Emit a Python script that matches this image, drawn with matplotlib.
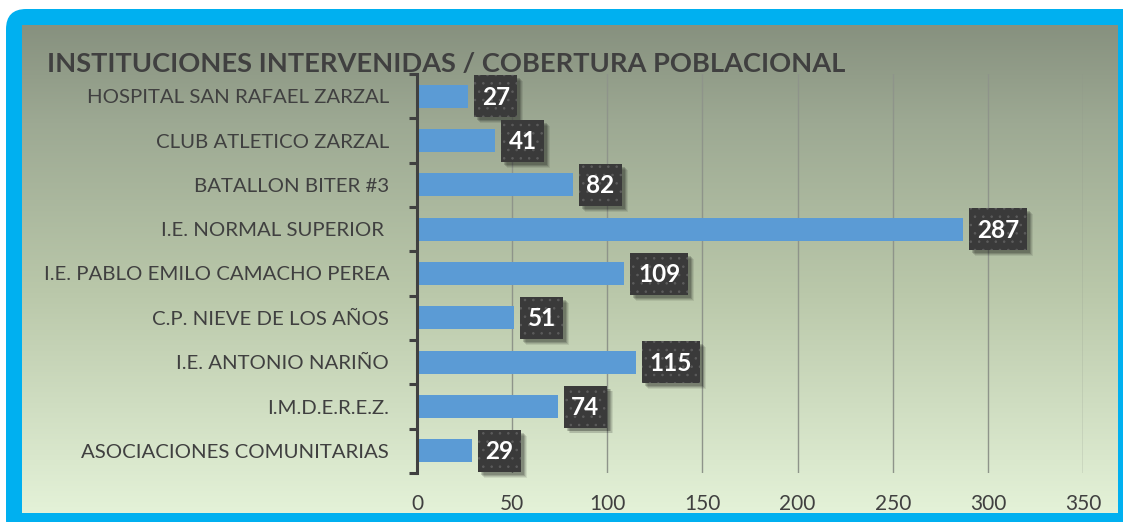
import numpy as np
import matplotlib
matplotlib.use("Agg")
import matplotlib.pyplot as plt
from matplotlib.patches import Rectangle, FancyBboxPatch
from matplotlib.colors import LinearSegmentedColormap

# ---- data ----
categories = [
    "HOSPITAL SAN RAFAEL ZARZAL",
    "CLUB ATLETICO ZARZAL",
    "BATALLON BITER #3",
    "I.E. NORMAL SUPERIOR ",
    "I.E. PABLO EMILO CAMACHO PEREA",
    "C.P. NIEVE DE LOS AÑOS",
    "I.E. ANTONIO NARIÑO",
    "I.M.D.E.R.E.Z.",
    "ASOCIACIONES COMUNITARIAS",
]
values = [27, 41, 82, 287, 109, 51, 115, 74, 29]
xticks = [0, 50, 100, 150, 200, 250, 300, 350]
title = "INSTITUCIONES INTERVENIDAS / COBERTURA POBLACIONAL"

W, H = 1123, 522
plt.rcParams['font.family'] = ['Lato', 'DejaVu Sans']
plt.rcParams['hatch.linewidth'] = 0.6
fig = plt.figure(figsize=(W / 100, H / 100), dpi=100)
fig.patch.set_facecolor('white')

def fx(px):
    return px / W

def fy(py):
    return 1 - py / H

# cyan frame
frame = FancyBboxPatch((fx(6), fy(540)), fx(1160) - fx(6), fy(9) - fy(540),
                       boxstyle="round,pad=0,rounding_size=0.018",
                       transform=fig.transFigure, facecolor='#00b0f0',
                       edgecolor='none', zorder=0, mutation_aspect=W / H)
fig.patches.append(frame)

# gradient inner background
bg = fig.add_axes([fx(22), fy(513), fx(1118) - fx(22), fy(25) - fy(513)], zorder=0.5)
cmap = LinearSegmentedColormap.from_list(
    'g', [(0, '#e4f2d8'), (0.45, '#bac8aa'), (0.8, '#9da993'), (1, '#87917f')])
grad = np.linspace(0, 1, 256).reshape(-1, 1)
bg.imshow(grad, aspect='auto', cmap=cmap, origin='lower', extent=[0, 1, 0, 1])
bg.set_axis_off()

# main axes
ax = fig.add_axes([fx(417), fy(473), fx(1083) - fx(417), fy(74) - fy(473)], zorder=2)
ax.patch.set_alpha(0)
n = len(categories)
y = np.arange(n)
ax.set_xlim(0, 350)
ax.set_ylim(n - 0.5, -0.5)

ax.barh(y, values, height=0.52, color='#5b9bd5', zorder=3)

# grid
ax.set_xticks(xticks)
ax.xaxis.grid(True, color='#8e948a', linewidth=1.0, zorder=1)
ax.set_axisbelow(True)
for s in ['top', 'right', 'bottom']:
    ax.spines[s].set_visible(False)
ax.spines['left'].set_color('#404040')
ax.spines['left'].set_linewidth(2.2)
ax.spines['left'].set_zorder(4)

ax.tick_params(axis='x', length=0, pad=15, labelsize=15, labelcolor='#404040')
ax.set_yticks(y)
ax.set_yticklabels(categories)
ax.tick_params(axis='y', which='major', length=0, pad=20, labelsize=14.7, labelcolor='#404040')
ax.set_yticks(np.arange(n + 1) - 0.5, minor=True)
ax.tick_params(axis='y', which='minor', length=5.5, width=2.2, color='#404040', direction='out')

# data labels
px_x = 350 / (1083 - 417)
px_y = 1 / ((473 - 74) / n)
for yi, v in zip(y, values):
    s = str(v)
    wpx = 13 + 15 * len(s)
    hpx = 42
    x0 = v + 6 * px_x
    bw = wpx * px_x
    bh = hpx * px_y
    # shadow
    for k, a in [(6, 0.08), (5, 0.1), (4, 0.14), (3, 0.16)]:
        ax.add_patch(Rectangle((x0 + k * px_x, yi - bh / 2 + k * px_y), bw, bh,
                               facecolor='black', alpha=a, edgecolor='none',
                               zorder=4, clip_on=False))
    ax.add_patch(Rectangle((x0, yi - bh / 2), bw, bh, facecolor='#3a3a3a',
                           edgecolor='#5c5c5c', linewidth=0, hatch='..',
                           zorder=5, clip_on=False))
    ax.text(x0 + bw / 2, yi + 0.02, s, ha='center', va='center', color='white',
            fontsize=17.5, fontweight='bold', zorder=6)

fig.text(fx(47), fy(64), title, ha='left', va='center', fontsize=19.6,
         fontweight='bold', color='#404040', zorder=5)

fig.savefig('out.png', dpi=100, facecolor='white')
